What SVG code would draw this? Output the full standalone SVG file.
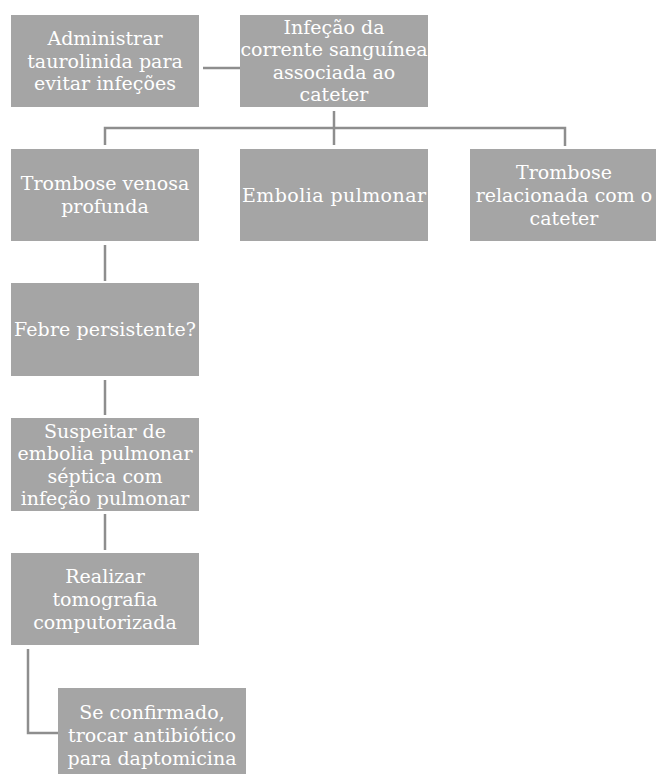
<svg xmlns="http://www.w3.org/2000/svg" width="656" height="774" viewBox="0 0 656 774">
<style>
.box{fill:#a5a5a5;}
.t{font-family:"DejaVu Serif","Liberation Serif",serif;font-size:19px;fill:#ffffff;text-anchor:middle;}
.c{fill:none;stroke:#8e8e8e;stroke-width:2.5;}
</style>
<rect width="656" height="774" fill="#ffffff"/>
<g id="connectors">
<line class="c" x1="203" y1="68" x2="244" y2="68"/>
<line class="c" x1="334" y1="111" x2="334" y2="145"/>
<polyline class="c" points="105,145 105,128 565,128 565,146"/>
<line class="c" x1="105" y1="245" x2="105" y2="281"/>
<line class="c" x1="105" y1="380" x2="105" y2="415"/>
<line class="c" x1="105" y1="514" x2="105" y2="550"/>
<polyline class="c" points="28,649 28,733 58,733"/>
</g>
<g id="n1"><rect class="box" x="11" y="15" width="188" height="92"/>
<text class="t"><tspan x="105" y="45">Administrar</tspan><tspan x="105" y="67.5">taurolinida para</tspan><tspan x="105" y="90">evitar infeções</tspan></text></g>
<g id="n2"><rect class="box" x="240" y="15" width="188" height="92"/>
<text class="t"><tspan x="334" y="33.5">Infeção da</tspan><tspan x="334" y="56">corrente sanguínea</tspan><tspan x="334" y="78.5">associada ao</tspan><tspan x="334" y="101">cateter</tspan></text></g>
<g id="n3"><rect class="box" x="11" y="149" width="188" height="92"/>
<text class="t"><tspan x="105" y="190">Trombose venosa</tspan><tspan x="105" y="213">profunda</tspan></text></g>
<g id="n4"><rect class="box" x="240" y="149" width="188" height="92"/>
<text class="t" x="334" y="201.5" textLength="184" lengthAdjust="spacing">Embolia pulmonar</text></g>
<g id="n5"><rect class="box" x="470" y="149" width="188" height="92"/>
<text class="t"><tspan x="564" y="178.5">Trombose</tspan><tspan x="564" y="201.5">relacionada com o</tspan><tspan x="564" y="224.5">cateter</tspan></text></g>
<g id="n6"><rect class="box" x="11" y="283" width="188" height="93"/>
<text class="t" x="105" y="336" textLength="182" lengthAdjust="spacing">Febre persistente?</text></g>
<g id="n7"><rect class="box" x="11" y="418" width="188" height="93"/>
<text class="t"><tspan x="105" y="437.5">Suspeitar de</tspan><tspan x="105" y="460">embolia pulmonar</tspan><tspan x="105" y="482.5">séptica com</tspan><tspan x="105" y="505">infeção pulmonar</tspan></text></g>
<g id="n8"><rect class="box" x="11" y="553" width="188" height="92"/>
<text class="t"><tspan x="105" y="582.5">Realizar</tspan><tspan x="105" y="605.5">tomografia</tspan><tspan x="105" y="628.5">computorizada</tspan></text></g>
<g id="n9"><rect class="box" x="58" y="688" width="188" height="92"/>
<text class="t"><tspan x="152" y="718.5">Se confirmado,</tspan><tspan x="152" y="741.5">trocar antibiótico</tspan><tspan x="152" y="764.5">para daptomicina</tspan></text></g>
</svg>
